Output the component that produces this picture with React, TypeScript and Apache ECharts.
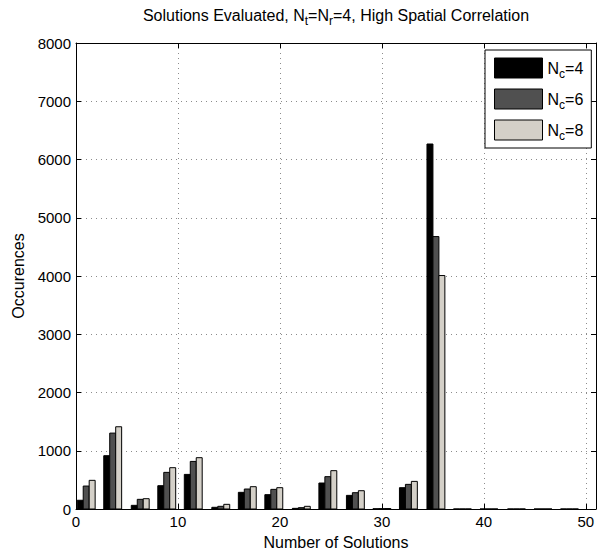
import React, { useEffect, useRef } from "react";
import * as echarts from "echarts";

// Histogram bin centres (x) and occurrence counts per N_c setting
const binCenters = [1.0, 3.6, 6.3, 8.9, 11.5, 14.2, 16.8, 19.4, 22.1, 24.7, 27.4, 30.0, 32.6, 35.3, 37.9, 40.5, 43.2, 45.8, 48.4];
const occNc4 = [150, 915, 63, 400, 594, 29, 286, 246, 11, 446, 234, 4, 366, 6266, 0, 0, 0, 0, 0];
const occNc6 = [394, 1303, 166, 629, 817, 46, 343, 337, 23, 555, 280, 6, 423, 4677, 0, 0, 0, 0, 0];
const occNc8 = [492, 1412, 177, 709, 881, 80, 383, 366, 46, 658, 314, 8, 474, 4008, 0, 0, 0, 0, 0];
const seriesNames = ["Nc=4", "Nc=6", "Nc=8"];
const seriesSub = ["c", "c", "c"];
const seriesSuffix = ["=4", "=6", "=8"];
const seriesValues = [occNc4, occNc6, occNc8];
const seriesColors = ["#000000", "#505050", "#d4d0c8"];

const X_MIN = 0;
const X_MAX = 51;
const X_INTERVAL = 10;
const Y_MIN = 0;
const Y_MAX = 8000;
const Y_INTERVAL = 1000;
const BAR_WIDTH = 0.585; // data units

const FONT = "'Liberation Sans', Arial, Helvetica, sans-serif";

export default function App() {
  const ref = useRef<HTMLDivElement>(null);
  useEffect(() => {
    document.body.style.margin = "0";
    if (!ref.current) return;
    const chart = echarts.init(ref.current, undefined, { renderer: "svg" });

    const rich = {
      a: { fontSize: 16, lineHeight: 20, fontFamily: FONT, color: "#000", fontWeight: "normal" },
      s: { fontSize: 12, lineHeight: 20, fontFamily: FONT, color: "#000", fontWeight: "normal", padding: [12, 0, 0, 0] },
    };

    const gridLine = { show: true, lineStyle: { color: "#8c8c8c", width: 1, type: [1, 4] as any } };
    const axisLine = { show: true, onZero: false, lineStyle: { color: "#000", width: 1 } };
    const axisTick = { show: true, inside: true, length: 5, lineStyle: { color: "#000" } };

    const series = seriesNames.map((name, si) => ({
      type: "custom" as const,
      name,
      data: binCenters.map((x, i) => [x, seriesValues[si][i]]),
      itemStyle: { color: seriesColors[si], borderColor: "#000", borderWidth: 1 },
      encode: { x: 0, y: 1 },
      renderItem: (params: any, api: any) => {
        const x = api.value(0);
        const y = api.value(1);
        const base = api.coord([x, 0]);
        const top = api.coord([x, y]);
        const w = api.size([BAR_WIDTH, 0])[0];
        const cx = base[0] + (params.seriesIndex - 1) * w;
        return {
          type: "rect",
          shape: { x: cx - w / 2, y: top[1], width: w, height: base[1] - top[1] },
          style: { fill: seriesColors[params.seriesIndex], stroke: "#000", lineWidth: 1 },
        };
      },
    }));

    chart.setOption({
      animation: false,
      backgroundColor: "#fff",
      textStyle: { fontFamily: FONT },
      title: {
        text: "{a|Solutions Evaluated, N}{s|t}{a|=N}{s|r}{a|=4, High Spatial Correlation}",
        left: 336,
        top: 5,
        padding: 0,
        textAlign: "center",
        textStyle: { fontWeight: "normal", rich },
      },
      legend: {
        orient: "vertical",
        left: 485,
        top: 50,
        padding: [6, 8, 6, 9],
        itemGap: 7,
        itemWidth: 48,
        itemHeight: 20,
        icon: "rect",
        selectedMode: false,
        backgroundColor: "#fff",
        borderColor: "#000",
        borderWidth: 1,
        borderRadius: 0,
        itemStyle: { borderColor: "#000", borderWidth: 1 },
        data: seriesNames,
        formatter: (name: string) => {
          const i = seriesNames.indexOf(name);
          return `{a|N}{s|${seriesSub[i]}}{a|${seriesSuffix[i]}}`;
        },
        textStyle: { rich },
      },
      grid: { left: 76, right: 1, top: 43, bottom: 44, outerBoundsMode: "none" } as any,
      xAxis: [
        {
          type: "value",
          position: "bottom",
          min: X_MIN,
          max: X_MAX,
          interval: X_INTERVAL,
          axisLine,
          axisTick,
          axisLabel: {
            fontSize: 15,
            color: "#000",
            fontFamily: FONT,
            margin: 5,
            formatter: (v: number) => (v % X_INTERVAL === 0 ? String(v) : ""),
          },
          splitLine: gridLine,
          name: "Number of Solutions",
          nameLocation: "middle",
          nameGap: 25,
          nameTextStyle: { fontSize: 16, color: "#000", fontFamily: FONT },
        },
        {
          type: "value",
          position: "top",
          min: X_MIN,
          max: X_MAX,
          interval: X_INTERVAL,
          axisLine,
          axisTick,
          axisLabel: { show: false },
          splitLine: { show: false },
        },
      ],
      yAxis: [
        {
          type: "value",
          position: "left",
          min: Y_MIN,
          max: Y_MAX,
          interval: Y_INTERVAL,
          axisLine,
          axisTick,
          axisLabel: {
            fontSize: 15,
            color: "#000",
            fontFamily: FONT,
            margin: 5,
            formatter: (v: number) => String(v),
          },
          splitLine: gridLine,
          name: "Occurences",
          nameLocation: "middle",
          nameGap: 47,
          nameTextStyle: { fontSize: 16, color: "#000", fontFamily: FONT },
        },
        {
          type: "value",
          position: "right",
          min: Y_MIN,
          max: Y_MAX,
          interval: Y_INTERVAL,
          axisLine,
          axisTick,
          axisLabel: { show: false },
          splitLine: { show: false },
        },
      ],
      series,
    });
    return () => chart.dispose();
  }, []);
  return <div ref={ref} style={{ width: 597, height: 553 }} />;
}
